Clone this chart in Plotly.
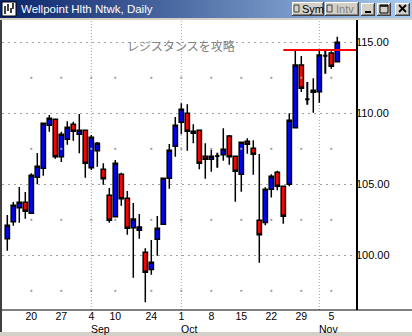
import plotly.graph_objects as go

# ---------------- data (Wellpoint Health Networks, daily, 2001) ----------------
DATES = ["08-14", "08-15", "08-16", "08-17", "08-20", "08-21", "08-22", "08-23", "08-24",
         "08-27", "08-28", "08-29", "08-30", "08-31",
         "09-04", "09-05", "09-06", "09-07", "09-10", "09-17", "09-18", "09-19", "09-20",
         "09-21", "09-24", "09-25", "09-26", "09-27", "09-28",
         "10-01", "10-02", "10-03", "10-04", "10-05", "10-08", "10-09", "10-10", "10-11",
         "10-12", "10-15", "10-16", "10-17", "10-18", "10-19", "10-22", "10-23", "10-24",
         "10-25", "10-26", "10-29", "10-30", "10-31",
         "11-01", "11-02", "11-05", "11-06"]
OPEN = [101.17, 102.37, 103.35, 103.73, 102.96, 105.49, 106.13, 109.16, 109.58,
        106.94, 108.17, 109.23, 108.52, 108.80,
        106.17, 107.37, 106.06, 104.23, 102.72, 105.70, 104.01, 101.94, 101.76,
        100.21, 99.01, 101.13, 102.18, 105.42, 107.68,
        109.37, 110.00, 108.73, 108.80, 106.97, 106.76, 107.00, 107.08, 108.40,
        106.97, 105.70, 108.03, 107.54, 102.47, 102.32, 104.65, 105.85, 104.86,
        105.00, 108.99, 113.40, 110.99, 111.48,
        111.52, 114.06, 114.25, 113.63]
HIGH = [102.84, 103.75, 104.81, 104.46, 105.78, 107.20, 109.30, 109.88, 109.58,
        108.70, 109.44, 109.41, 109.95, 108.80,
        108.47, 107.98, 106.48, 104.74, 106.71, 105.82, 104.53, 103.68, 102.91,
        100.49, 101.08, 102.77, 105.42, 107.84, 109.74,
        110.70, 110.63, 109.23, 108.80, 107.89, 107.44, 107.23, 108.94, 108.47,
        106.97, 107.96, 108.24, 108.10, 107.13, 104.79, 105.70, 105.96, 104.86,
        110.00, 114.51, 114.04, 112.20, 112.47,
        114.41, 114.53, 114.37, 115.39]
LOW = [100.32, 102.08, 102.30, 102.58, 102.96, 105.00, 105.61, 108.70, 106.80,
       106.57, 107.79, 108.07, 107.18, 105.47,
       106.01, 106.24, 104.97, 102.30, 102.72, 103.49, 101.45, 98.42, 101.17,
       96.69, 98.63, 99.97, 102.18, 104.69, 106.94,
       108.52, 107.37, 107.89, 106.06, 105.39, 105.89, 106.17, 106.66, 106.38,
       103.77, 104.48, 107.16, 105.68, 99.48, 102.11, 104.08, 104.58, 102.23,
       104.86, 108.99, 111.50, 110.61, 110.04,
       110.75, 112.79, 113.14, 113.63]
CLOSE = [102.11, 103.52, 103.73, 103.10, 105.63, 106.27, 109.30, 109.65, 106.94,
         108.52, 109.01, 108.73, 108.80, 106.48,
         108.31, 107.89, 105.39, 102.47, 106.48, 103.99, 101.90, 102.56, 101.99,
         98.80, 99.51, 101.90, 105.42, 107.39, 109.16,
         110.28, 108.73, 108.59, 106.48, 106.76, 106.97, 107.00, 107.47, 106.94,
         105.92, 107.96, 107.82, 107.11, 101.45, 104.65, 105.56, 104.86, 102.75,
         109.51, 113.40, 111.76, 110.99, 111.62,
         114.11, 114.06, 113.31, 115.00]

TICK_DATES = ["08-20", "08-27", "09-04", "09-10", "09-24", "10-01", "10-08", "10-15",
              "10-22", "10-29", "11-05"]
TICK_TEXT = ["20", "27", "4", "10", "24", "1", "8", "15", "22", "29", "5"]
MONTH_START = ["09-04", "10-01", "11-01"]
MONTH_TEXT = ["Sep", "Oct", "Nov"]
Y_TICKS = [100, 105, 110, 115]
Y_MINOR = [97.5, 102.5, 107.5, 112.5]

RESIST_LEVEL = 114.45
RESIST_FROM = "10-24"
NOTE_TEXT = "レジスタンスを攻略"
TITLE = "Wellpoint Hlth Ntwk, Daily"

# ---------------- geometry ----------------
W, H = 412, 336
L, R, T, B = 2, 356, 20, 310
X_RANGE = [-0.883, 58.117]
Y_RANGE = [96.15, 116.57]

def xp(px):
    return (px - L) / (R - L)

def yp(py):
    return (B - py) / (B - T)

idx = {d: i for i, d in enumerate(DATES)}
X = list(range(len(DATES)))

doji = [abs(o - c) < 1e-9 for o, c in zip(OPEN, CLOSE)]
nx = [x for x, d in zip(X, doji) if not d]
sel = lambda arr, flag: [v for v, d in zip(arr, doji) if d == flag]

fig = go.Figure()

# minor grid dots at weekly label positions
tick_idx = [idx[d] for d in TICK_DATES]
fig.add_trace(go.Scatter(
    x=[t for lv in Y_MINOR for t in tick_idx],
    y=[lv for lv in Y_MINOR for t in tick_idx],
    mode="markers", marker=dict(symbol="square", size=2, color="#a0a0a0", line=dict(width=0)),
    hoverinfo="skip", showlegend=False))

fig.add_trace(go.Candlestick(
    x=nx, open=sel(OPEN, False), high=sel(HIGH, False), low=sel(LOW, False), close=sel(CLOSE, False),
    increasing=dict(line=dict(color="black", width=1.5), fillcolor="#0000ff"),
    decreasing=dict(line=dict(color="black", width=1.5), fillcolor="#ff0000"),
    whiskerwidth=0, hoverinfo="skip", showlegend=False))

fig.add_trace(go.Candlestick(
    x=[x for x, d in zip(X, doji) if d], open=sel(OPEN, True), high=sel(HIGH, True),
    low=sel(LOW, True), close=sel(CLOSE, True),
    increasing=dict(line=dict(color="black", width=2), fillcolor="black"),
    decreasing=dict(line=dict(color="black", width=2), fillcolor="black"),
    whiskerwidth=0, hoverinfo="skip", showlegend=False))

# resistance line
fig.add_trace(go.Scatter(
    x=[idx[RESIST_FROM], X_RANGE[1]], y=[RESIST_LEVEL, RESIST_LEVEL], mode="lines",
    line=dict(color="#ff0000", width=2), hoverinfo="skip", showlegend=False, cliponaxis=False))

shapes = []
annotations = []

# month separators (dotted verticals)
for d in MONTH_START:
    shapes.append(dict(type="line", xref="x", yref="paper", x0=idx[d], x1=idx[d], y0=0, y1=1,
                       line=dict(color="#a0a0a0", width=1, dash="1px,2px"), layer="below"))

# bottom axis line across full width
shapes.append(dict(type="line", xref="paper", yref="paper", x0=xp(0), x1=xp(W), y0=yp(310), y1=yp(310),
                   line=dict(color="black", width=1)))

# window frame: left border, bottom band
shapes.append(dict(type="rect", xref="paper", yref="paper", x0=xp(0), x1=xp(2), y0=yp(336), y1=yp(18),
                   fillcolor="#404040", line=dict(width=0)))
shapes.append(dict(type="rect", xref="paper", yref="paper", x0=xp(0), x1=xp(W), y0=yp(336), y1=yp(332),
                   fillcolor="#d4d0c8", line=dict(width=0)))

# title bar gradient
c0 = (10, 36, 106)
c1 = (166, 202, 240)
N = 103
for k in range(N):
    f = k / (N - 1)
    col = "rgb(%d,%d,%d)" % tuple(round(a + (b - a) * f) for a, b in zip(c0, c1))
    shapes.append(dict(type="rect", xref="paper", yref="paper", x0=xp(k * 4), x1=xp(k * 4 + 4.2),
                       y0=yp(18), y1=yp(0), fillcolor=col, line=dict(width=0)))
shapes.append(dict(type="rect", xref="paper", yref="paper", x0=xp(0), x1=xp(W), y0=yp(20), y1=yp(18),
                   fillcolor="#d4d0c8", line=dict(width=0)))

# icon
shapes.append(dict(type="rect", xref="paper", yref="paper", x0=xp(2), x1=xp(16), y0=yp(16), y1=yp(2),
                   fillcolor="white", line=dict(color="black", width=1)))
for (ix, a, b) in [(5, 6, 14), (8, 4, 11), (11, 8, 13), (13, 3, 9)]:
    shapes.append(dict(type="line", xref="paper", yref="paper", x0=xp(ix), x1=xp(ix), y0=yp(b), y1=yp(a),
                       line=dict(color="black", width=1.5)))

def button(x0, y0, x1, y1):
    out = []
    for (dx0, dy0, dx1, dy1, col) in [(0, 0, 0, 0, "#404040"), (0, 0, -1, -1, "white"),
                                       (1, 1, -1, -1, "#808080"), (1, 1, -2, -2, "#d4d0c8")]:
        out.append(dict(type="rect", xref="paper", yref="paper", x0=xp(x0 + dx0), x1=xp(x1 + dx1),
                        y0=yp(y1 + dy1), y1=yp(y0 + dy0), fillcolor=col, line=dict(width=0)))
    return out

for bx in [(292, 2, 324, 16), (325, 2, 359, 16), (361, 3, 375, 16), (377, 3, 391, 16), (395, 3, 410, 16)]:
    shapes += button(*bx)
# checkboxes
for cx in (294, 327):
    shapes.append(dict(type="rect", xref="paper", yref="paper", x0=xp(cx), x1=xp(cx + 5), y0=yp(12), y1=yp(5),
                       fillcolor="#d4d0c8", line=dict(color="#404040", width=1)))
# minimize glyph
shapes.append(dict(type="rect", xref="paper", yref="paper", x0=xp(365), x1=xp(371), y0=yp(13), y1=yp(11),
                   fillcolor="black", line=dict(width=0)))
# maximize glyph
shapes.append(dict(type="rect", xref="paper", yref="paper", x0=xp(380), x1=xp(388), y0=yp(13), y1=yp(5),
                   fillcolor="rgba(0,0,0,0)", line=dict(color="black", width=1)))
shapes.append(dict(type="line", xref="paper", yref="paper", x0=xp(380), x1=xp(388), y0=yp(6), y1=yp(6),
                   line=dict(color="black", width=1.5)))
# close glyph
for (a, b, c, d) in [(399, 5, 406, 12), (399, 12, 406, 5)]:
    shapes.append(dict(type="line", xref="paper", yref="paper", x0=xp(a), x1=xp(c), y0=yp(b), y1=yp(d),
                       line=dict(color="black", width=1.8)))

annotations.append(dict(xref="paper", yref="paper", x=xp(19), y=yp(8.5), xanchor="left", yanchor="middle",
                        text=TITLE, showarrow=False,
                        font=dict(family="Liberation Sans", size=11.5, color="white")))
annotations.append(dict(xref="paper", yref="paper", x=xp(300), y=yp(9), xanchor="left", yanchor="middle",
                        text="Sym", showarrow=False, font=dict(family="Liberation Sans", size=11, color="black")))
annotations.append(dict(xref="paper", yref="paper", x=xp(334), y=yp(9), xanchor="left", yanchor="middle",
                        text="Intv", showarrow=False, font=dict(family="Liberation Sans", size=11, color="#808080")))

# month labels
for d, m in zip(MONTH_START, MONTH_TEXT):
    annotations.append(dict(xref="x", yref="paper", x=idx[d], y=yp(329), xanchor="left", yanchor="middle",
                            xshift=-1, text=m, showarrow=False, borderpad=0,
                            font=dict(family="Liberation Sans", size=10.5, color="black")))

# note text
annotations.append(dict(xref="x", yref="y", x=28.9, y=114.8, xanchor="center", yanchor="middle",
                        text=NOTE_TEXT, showarrow=False,
                        font=dict(family="Noto Sans CJK JP", size=12, color="#808080")))

fig.update_layout(
    width=W, height=H,
    margin=dict(l=L, r=W - R, t=T, b=H - B, pad=0),
    paper_bgcolor="white", plot_bgcolor="white",
    boxgap=0.25, boxgroupgap=0.05,
    showlegend=False,
    shapes=shapes, annotations=annotations,
    xaxis=dict(range=X_RANGE, tickmode="array", tickvals=tick_idx, ticktext=TICK_TEXT,
               showgrid=False, zeroline=False, showline=False, ticks="",
               ticklabelstandoff=-2,
               tickfont=dict(family="Liberation Sans", size=10.5, color="black"),
               rangeslider=dict(visible=False), fixedrange=True),
    yaxis=dict(range=Y_RANGE, side="right", tickmode="array", tickvals=Y_TICKS, tickformat=".2f",
               showgrid=True, gridcolor="#a0a0a0", gridwidth=1, griddash="2px,4px",
               zeroline=False, showline=True, linecolor="black", linewidth=1.5, ticks="",
               ticklabelstandoff=-4,
               tickfont=dict(family="Liberation Sans", size=11, color="black"), fixedrange=True),
)

fig.write_html("out.html", config={"displayModeBar": False})
